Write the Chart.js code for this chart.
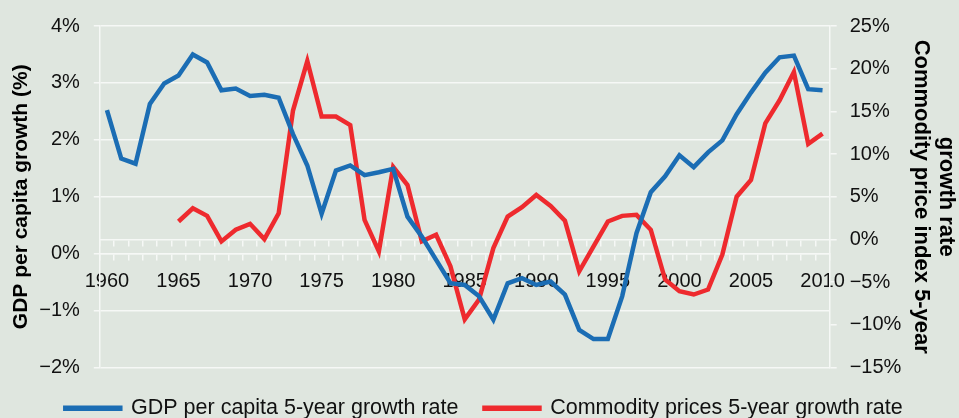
<!DOCTYPE html>
<html>
<head>
<meta charset="utf-8">
<script src="https://cdn.jsdelivr.net/npm/chart.js@4"></script>
<style>
  body { margin: 0; background: #dfe6df; }
  #wrap { width: 959px; height: 418px; position: relative; }
</style>
</head>
<body>
<div id="wrap"><canvas id="chart"></canvas></div>
<script>
const years = [];
for (let y = 1960; y <= 2010; y++) years.push(String(y));

// GDP per capita 5-year growth rate (%), left axis
const gdpGrowth = [
  2.52, 1.67, 1.58, 2.63, 2.99, 3.13, 3.50, 3.36, 2.87, 2.90,
  2.77, 2.79, 2.74, 2.10, 1.55, 0.70, 1.46, 1.55, 1.38, 1.43,
  1.49, 0.65, 0.30, -0.11, -0.52, -0.55, -0.75, -1.16, -0.52, -0.43,
  -0.55, -0.49, -0.72, -1.34, -1.50, -1.50, -0.75, 0.36, 1.08, 1.36,
  1.73, 1.52, 1.78, 1.99, 2.45, 2.83, 3.18, 3.45, 3.48, 2.89, 2.87
];

// Commodity prices 5-year growth rate (%), right axis
const commodityGrowth = [
  null, null, null, null, null, 2.10, 3.65, 2.76, -0.23, 1.13,
  1.83, 0.04, 3.07, 15.1, 20.9, 14.4, 14.4, 13.4, 2.29, -1.40,
  8.51, 6.37, -0.23, 0.54, -3.15, -9.36, -7.03, -1.01, 2.68, 3.77,
  5.21, 3.93, 2.21, -3.73, -0.82, 2.10, 2.76, 2.88, 1.13, -4.70,
  -6.06, -6.45, -5.87, -1.78, 5.01, 6.96, 13.6, 16.3, 19.6, 11.2, 12.4
];

const seriesNames = ["GDP per capita 5-year growth rate", "Commodity prices 5-year growth rate"];
const leftTitle = "GDP per capita growth (%)";
const rightTitle = ["growth rate", "Commodity price index 5-year"]; // first line ends up rightmost when rotated

const BLUE = "#1b6db4";
const RED = "#ee2a2e";
const GRID = "#f6f8f6";
const FONT = "'Liberation Sans', Arial, sans-serif";

function pct(v) {
  return (v < 0 ? "\u2212" + Math.abs(v) : v) + "%";
}

new Chart(document.getElementById("chart"), {
  type: "line",
  data: {
    labels: years,
    datasets: [
      {
        label: seriesNames[0],
        data: gdpGrowth,
        yAxisID: "y",
        borderColor: BLUE,
        backgroundColor: BLUE,
        borderWidth: 4.5,
        pointRadius: 0,
        tension: 0,
      },
      {
        label: seriesNames[1],
        data: commodityGrowth,
        yAxisID: "yR",
        borderColor: RED,
        backgroundColor: RED,
        borderWidth: 4.5,
        pointRadius: 0,
        tension: 0,
      },
    ],
  },
  options: {
    responsive: true,
    maintainAspectRatio: false,
    animation: false,
    layout: { padding: { top: 24, left: 9, right: 0, bottom: -11 } },
    plugins: {
      tooltip: { enabled: false },
      legend: {
        position: "bottom",
        title: { display: true, text: "", padding: 0, font: { size: 4, lineHeight: 1 } },
        labels: {
          boxWidth: 55,
          boxHeight: 1,
          padding: 26,
          color: "#111",
          font: { family: FONT, size: 21.5 },
        },
      },
    },
    scales: {
      x: {
        type: "category",
        position: { y: 0 },
        offset: true,
        grid: { display: true, drawOnChartArea: false, drawTicks: true, tickLength: 6, offset: true, color: GRID, lineWidth: 1.5 },
        border: { display: true, color: GRID, width: 1.5 },
        ticks: {
          autoSkip: false,
          maxRotation: 0,
          padding: 10,
          color: "#111",
          font: { family: FONT, size: 20 },
          callback: function (val, i) {
            const yr = Number(years[i]);
            return yr % 5 === 0 ? years[i] : "";
          },
        },
      },
      x2: {
        type: "category",
        position: { yR: 0 },
        offset: true,
        grid: { display: true, drawOnChartArea: false, drawTicks: true, tickLength: 6, offset: true, color: GRID, lineWidth: 1.5 },
        border: { display: true, color: GRID, width: 1.5 },
        ticks: { display: false, autoSkip: false },
      },
      y: {
        position: "left",
        min: -2,
        max: 4,
        ticks: {
          stepSize: 1,
          padding: 14,
          color: "#111",
          font: { family: FONT, size: 20 },
          callback: pct,
        },
        grid: { color: GRID, lineWidth: 1.5, tickLength: 6 },
        border: { display: true, color: GRID, width: 1.5 },
        title: {
          display: true,
          text: leftTitle,
          color: "#000",
          padding: { top: 0, bottom: -9 },
          font: { family: FONT, size: 21, weight: "bold" },
        },
      },
      yR: {
        position: "right",
        min: -15,
        max: 25,
        ticks: {
          stepSize: 5,
          padding: 13,
          color: "#111",
          font: { family: FONT, size: 20 },
          callback: pct,
        },
        grid: { drawOnChartArea: false, color: GRID, lineWidth: 1.5, tickLength: 7 },
        border: { display: true, color: GRID, width: 1.5 },
        title: {
          display: true,
          text: rightTitle,
          color: "#000",
          padding: { top: 0, bottom: -6 },
          font: { family: FONT, size: 22, weight: "bold", lineHeight: 1.15 },
        },
      },
    },
  },
});
</script>
</body>
</html>
